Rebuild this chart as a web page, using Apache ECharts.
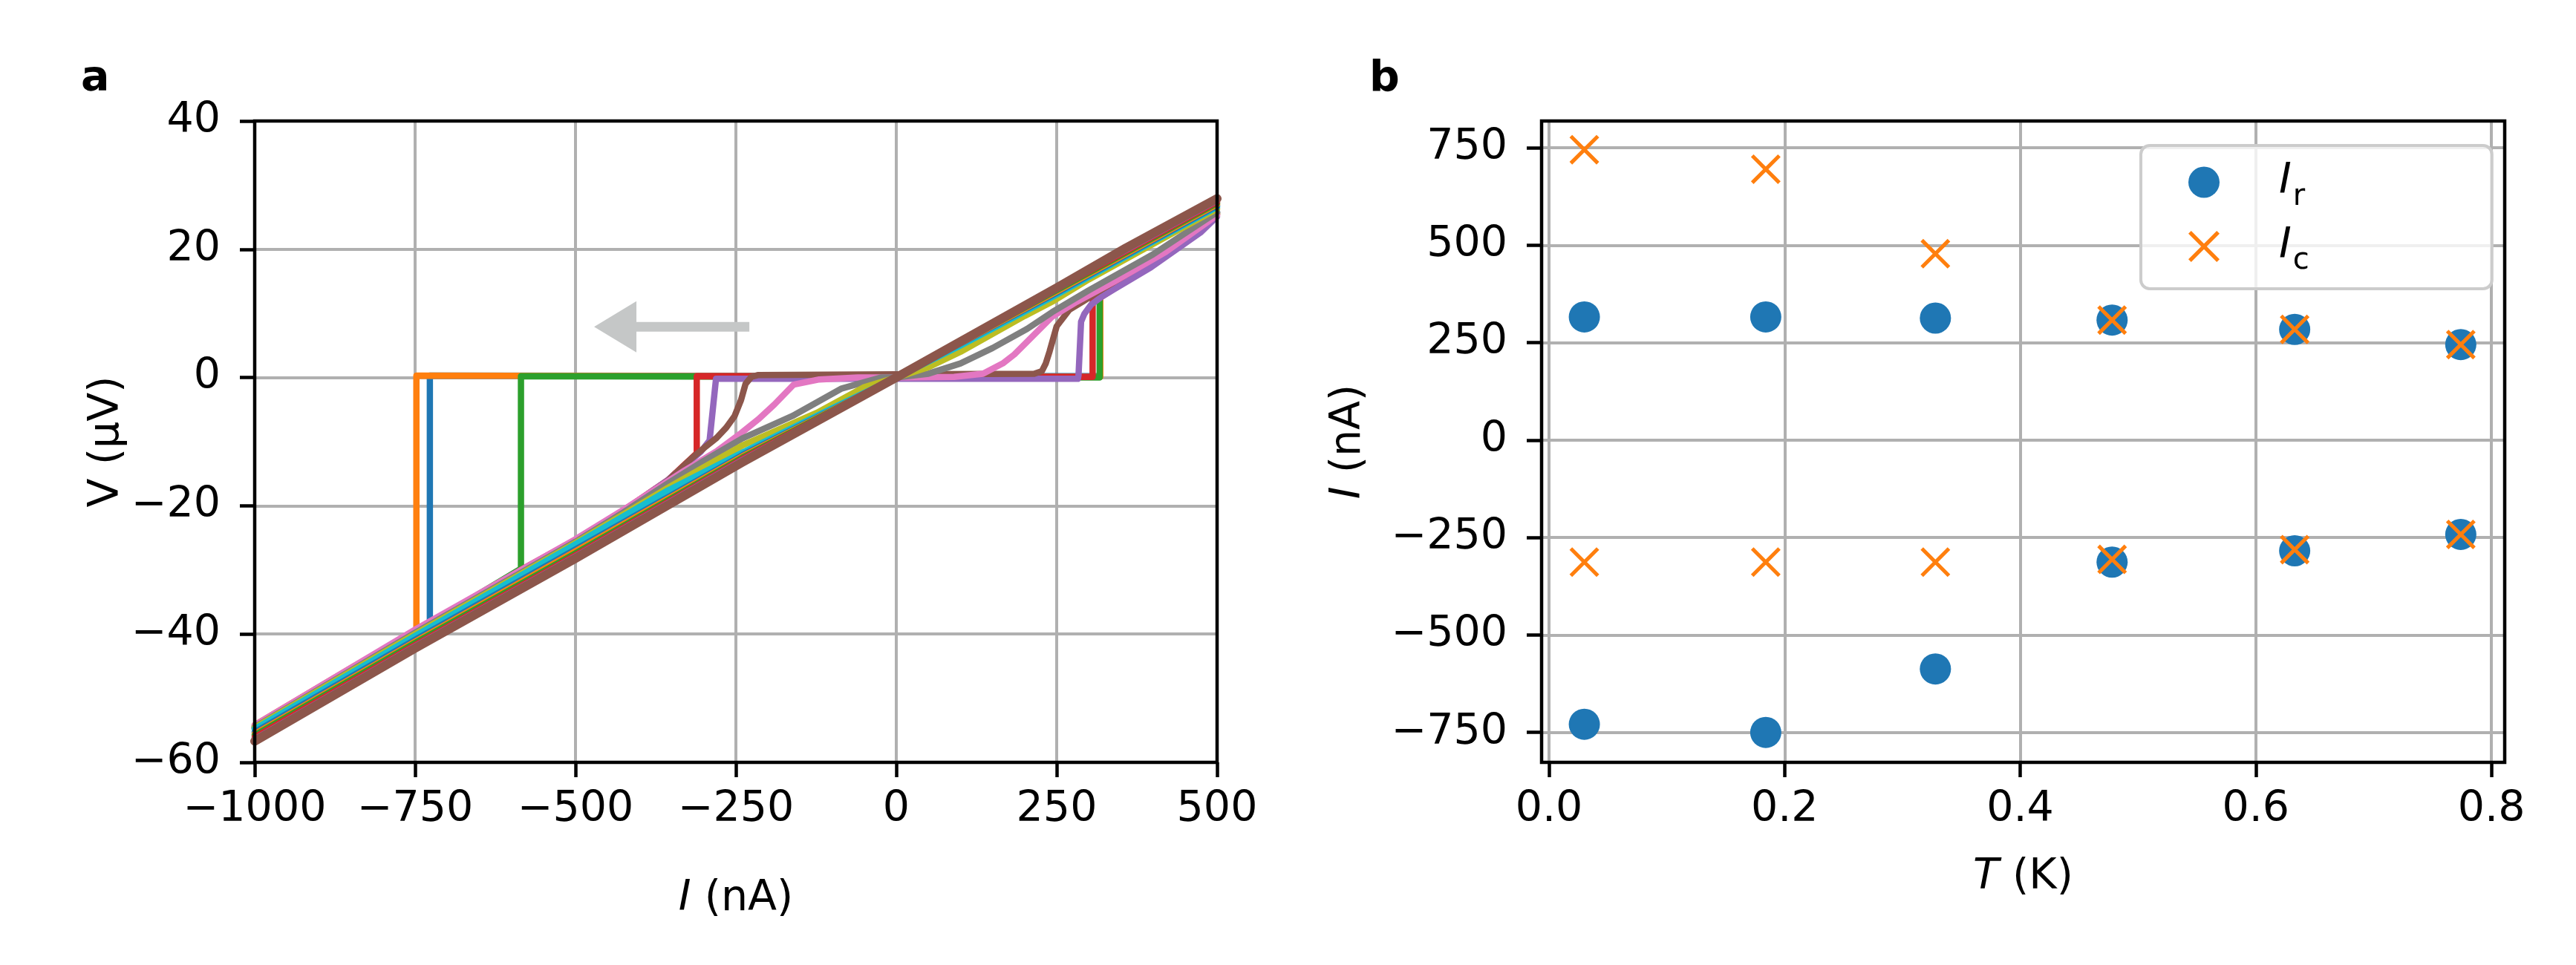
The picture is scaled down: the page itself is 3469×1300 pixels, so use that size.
<!DOCTYPE html>
<html>
<head>
<meta charset="utf-8">
<script src="https://cdn.jsdelivr.net/npm/echarts@6/dist/echarts.min.js"></script>
<style>html,body{margin:0;padding:0;background:#fff}#c{width:3469px;height:1300px}</style>
</head>
<body>
<div id="c"></div>
<script>
// ---------- Panel a: V(I) sweeps, [I (nA), V (uV)] ----------
const C01_BLUE   = [[500,25.8],[474,23.2],[397,17.6],[340,14.1],[318,12.7],[318,0.2],[-727,0.3],[-727,-38.3],[-750,-39.6],[-850,-45.5],[-1000,-54.4]];
const C02_ORANGE = [[500,25.6],[474,23.0],[397,17.5],[340,14.0],[318,12.6],[318,0.1],[-748,0.3],[-748,-39.4],[-850,-45.3],[-1000,-54.2]];
const C03_GREEN  = [[500,25.5],[474,22.9],[397,17.4],[340,13.9],[317,12.5],[317,0.0],[-585,0.2],[-585,-29.8],[-750,-39.7],[-1000,-54.5]];
const C04_RED    = [[500,25.4],[474,22.8],[397,17.3],[340,13.9],[320,12.6],[306,11.8],[306,0.1],[-311,0.2],[-311,-11.8],[-356,-16.0],[-425,-20.7],[-500,-25.3],[-585,-30.0],[-750,-39.8],[-1000,-54.6]];
const C05_PURPLE = [[500,25.1],[474,22.6],[397,17.2],[340,13.8],[320,12.6],[304,11.4],[293,9.9],[288,8.7],[284,0.3],[283,-0.2],[-281,-0.2],[-286,-5.0],[-291,-9.8],[-305,-11.6],[-356,-16.0],[-425,-20.8],[-500,-25.4],[-750,-39.9],[-1000,-54.7]];
const C06_BROWN  = [[500,25.7],[420,19.9],[360,16.2],[320,13.7],[290,11.8],[270,10.6],[250,8.0],[239,4.1],[233,2.2],[227,1.0],[215,0.6],[0,0.5],[-215,0.4],[-226,0.1],[-235,-1.0],[-242,-3.5],[-252,-6.0],[-265,-7.8],[-280,-9.4],[-300,-11.0],[-320,-12.7],[-356,-16.1],[-425,-20.9],[-500,-25.5],[-750,-40.0],[-1000,-54.8]];
const C07_PINK   = [[500,25.3],[420,19.6],[339,14.9],[281,11.8],[243,9.5],[204,5.6],[184,3.6],[166,2.2],[135,0.6],[90,0.1],[0,0],[-60,0],[-120,-0.3],[-160,-1.1],[-190,-4.2],[-215,-6.5],[-241,-8.6],[-280,-11.5],[-330,-14.5],[-425,-20.6],[-500,-25.2],[-750,-39.3],[-1000,-54.2]];
const C08_GRAY   = [[500,25.8],[400,19.2],[300,13.6],[243,10.2],[204,7.6],[150,4.6],[100,2.2],[50,0.6],[0,0],[-24,0],[-85,-1.7],[-162,-6.0],[-240,-9.5],[-300,-13.0],[-356,-16.5],[-425,-21.0],[-500,-25.6],[-750,-39.8],[-1000,-54.5]];
const C09_OLIVE  = [[500,26.3],[400,20.8],[300,15.3],[246,12.0],[200,9.6],[150,6.8],[100,4.0],[50,1.6],[0,0],[-50,-1.5],[-124,-5.5],[-240,-10.6],[-300,-14.0],[-356,-17.2],[-500,-25.8],[-750,-40.0],[-1000,-54.6]];
const C10_CYAN   = [[500,26.6],[400,21.2],[246,12.7],[100,5.0],[0,0],[-100,-4.8],[-240,-11.7],[-356,-17.6],[-500,-26.0],[-750,-40.3],[-1000,-54.8]];
const C11_BLUE   = [[500,26.8],[246,13.0],[0,0],[-240,-12.1],[-500,-26.8],[-750,-40.9],[-1000,-55.3]];
const C12_ORANGE = [[500,27.0],[246,13.2],[0,0],[-240,-12.3],[-500,-27.1],[-750,-41.2],[-1000,-55.6]];
const C13_GREEN  = [[500,27.2],[246,13.4],[0,0],[-240,-12.5],[-500,-27.4],[-750,-41.4],[-1000,-55.8]];
const C14_RED    = [[500,27.4],[246,13.6],[0,0],[-240,-12.7],[-500,-27.7],[-750,-41.7],[-1000,-56.1]];
const C15_PURPLE = [[500,27.6],[246,13.8],[0,0],[-240,-12.9],[-500,-27.9],[-750,-41.9],[-1000,-56.4]];
const C16_BROWN  = [[500,27.9],[358,20.2],[250,14.0],[0,0],[-240,-13.2],[-500,-28.2],[-750,-42.2],[-1000,-56.7]];
const IV_CURVES = [C01_BLUE,C02_ORANGE,C03_GREEN,C04_RED,C05_PURPLE,C06_BROWN,C07_PINK,C08_GRAY,C09_OLIVE,C10_CYAN,C11_BLUE,C12_ORANGE,C13_GREEN,C14_RED,C15_PURPLE,C16_BROWN];
const ARROW_TAIL = [-229, 7.9];
const ARROW_TIP  = [-471, 7.9];
const A_X_TICKS = [-1000,-750,-500,-250,0,250,500];
const A_Y_TICKS = [-60,-40,-20,0,20,40];

// ---------- Panel b: currents vs temperature ----------
const T_K    = [0.030, 0.184, 0.328, 0.478, 0.633, 0.774];
const IR_POS = [316, 316, 313, 308, 284, 245];
const IR_NEG = [-729, -750, -587, -313, -284, -242];
const IC_POS = [745, 695, 478, 308, 284, 245];
const IC_NEG = [-313, -313, -313, -306, -281, -242];
const B_X_TICKS = [0, 0.2, 0.4, 0.6, 0.8];
const B_Y_TICKS = [-750, -500, -250, 0, 250, 500, 750];
const B_X_RANGE = [-0.0063, 0.8113];
const B_Y_RANGE = [-826.7, 818.6];

// ---------- styles / layout ----------
const TAB10 = ['#1f77b4','#ff7f0e','#2ca02c','#d62728','#9467bd','#8c564b','#e377c2','#7f7f7f','#bcbd22','#17becf'];
const FONT = 'DejaVu Sans';
const FS = 57;
const GRID_A = {left:343, top:163, width:1296, height:864};
const GRID_B = {left:2076, top:163, width:1297, height:864};
const GRIDLINE = {color:'#b0b0b0', width:4};
const SPINE_W = 4.5;

const minus = v => (v < 0 ? '\u2212' : '') + Math.abs(v);
const axisCommon = {
  axisLine:{show:false, onZero:false},
  axisTick:{show:true, inside:false, length:20, lineStyle:{color:'#000', width:SPINE_W}},
  splitLine:{show:true, lineStyle:GRIDLINE},
  nameLocation:'middle',
  nameTextStyle:{fontFamily:FONT, fontSize:FS, color:'#000',
    rich:{i:{fontFamily:FONT, fontSize:FS, fontStyle:'italic', color:'#000'},
          n:{fontFamily:FONT, fontSize:FS, color:'#000'}}}
};
const lbl = (margin, fmt) => ({show:true, fontFamily:FONT, fontSize:FS, color:'#000', margin:margin, formatter:fmt});

const series = [];
series.push({
  type:'custom', xAxisIndex:0, yAxisIndex:0, silent:true, z:1,
  encode:{x:[0,2], y:[1,3]},
  data:[[ARROW_TAIL[0], ARROW_TAIL[1], ARROW_TIP[0], ARROW_TIP[1]]],
  renderItem:(params, api) => {
    const tail = api.coord([api.value(0), api.value(1)]);
    const tip = api.coord([api.value(2), api.value(3)]);
    const HL = 57, HW = 34.5, BW = 6.5;
    const back = tip[0] + HL;
    return {type:'polygon', shape:{points:[[tail[0],tail[1]-BW],[back,tail[1]-BW],[back,tip[1]-HW],[tip[0],tip[1]],[back,tip[1]+HW],[back,tail[1]+BW],[tail[0],tail[1]+BW]]},
            style:{fill:'#c5c7c7'}};
  }
});
IV_CURVES.forEach((d, i) => {
  series.push({
    type:'line', xAxisIndex:0, yAxisIndex:0, data:d, showSymbol:false, symbol:'none',
    lineStyle:{color:TAB10[i % 10], width: i === IV_CURVES.length - 1 ? 12 : 8.5, join:'round', cap:'round'},
    silent:true, z:2
  });
});
const XMARK = 'path://M0,0.9 L0.9,0 L10,9.1 L9.1,10 Z M9.1,0 L10,0.9 L0.9,10 L0,9.1 Z';
series.push({
  name:'Ir', type:'scatter', xAxisIndex:1, yAxisIndex:1, symbol:'circle', symbolSize:42,
  itemStyle:{color:TAB10[0], opacity:1},
  data: T_K.map((t,i)=>[t, IR_POS[i]]).concat(T_K.map((t,i)=>[t, IR_NEG[i]]))
});
series.push({
  name:'Ic', type:'scatter', xAxisIndex:1, yAxisIndex:1, symbol:XMARK, symbolSize:40,
  itemStyle:{color:TAB10[1], opacity:1},
  data: T_K.map((t,i)=>[t, IC_POS[i]]).concat(T_K.map((t,i)=>[t, IC_NEG[i]]))
});

const chart = echarts.init(document.getElementById('c'), null, {renderer:'canvas', devicePixelRatio:1});
chart.setOption({
  animation:false,
  backgroundColor:'#fff',
  grid:[Object.assign({containLabel:false}, GRID_A), Object.assign({containLabel:false}, GRID_B)],
  xAxis:[
    Object.assign({}, axisCommon, {gridIndex:0, type:'value', min:-1000, max:500, interval:250,
      name:'{i|I}{n| (nA)}', nameGap:156, axisLabel:lbl(36, minus)}),
    Object.assign({}, axisCommon, {gridIndex:1, type:'value', min:B_X_RANGE[0], max:B_X_RANGE[1],
      axisTick:Object.assign({}, axisCommon.axisTick, {customValues:B_X_TICKS}),
      name:'{i|T}{n| (K)}', nameGap:127,
      axisLabel:Object.assign(lbl(36, v => Number(v).toFixed(1)), {customValues:B_X_TICKS})})
  ],
  yAxis:[
    Object.assign({}, axisCommon, {gridIndex:0, type:'value', min:-60, max:40, interval:20,
      name:'{n|V (\u03bcV)}', nameGap:168, axisLabel:lbl(46, minus)}),
    Object.assign({}, axisCommon, {gridIndex:1, type:'value', min:B_Y_RANGE[0], max:B_Y_RANGE[1],
      axisTick:Object.assign({}, axisCommon.axisTick, {customValues:B_Y_TICKS}),
      name:'{i|I}{n| (nA)}', nameGap:231,
      axisLabel:Object.assign(lbl(46, minus), {customValues:B_Y_TICKS})})
  ],
  legend:{
    show:true, data:['Ir','Ic'], orient:'vertical', left:2883, top:196,
    padding:[21,246,17,64], itemGap:18, itemWidth:42, itemHeight:42,
    backgroundColor:'rgba(255,255,255,0.8)', borderColor:'#cccccc', borderWidth:4, borderRadius:12,
    formatter: n => '{g|}{i|I}{s|' + n.slice(1) + '}',
    textStyle:{fontFamily:FONT, fontSize:FS, color:'#000',
      rich:{g:{width:75}, i:{fontFamily:FONT, fontSize:FS, fontStyle:'italic', color:'#000'},
            s:{fontFamily:FONT, fontSize:40, color:'#000', padding:[40,0,0,2]}}},
    selectedMode:false
  },
  graphic:[
    {type:'rect', z:100, silent:true, shape:{x:GRID_A.left, y:GRID_A.top, width:GRID_A.width, height:GRID_A.height},
      style:{fill:'none', stroke:'#000', lineWidth:SPINE_W}},
    {type:'rect', z:100, silent:true, shape:{x:GRID_B.left, y:GRID_B.top, width:GRID_B.width, height:GRID_B.height},
      style:{fill:'none', stroke:'#000', lineWidth:SPINE_W}},
    {type:'text', z:100, silent:true, style:{text:'a', x:109, y:136, font:'bold 57px "DejaVu Sans"', fill:'#000', verticalAlign:'bottom'}},
    {type:'text', z:100, silent:true, style:{text:'b', x:1844, y:136, font:'bold 57px "DejaVu Sans"', fill:'#000', verticalAlign:'bottom'}}
  ],
  series:series
});
</script>
</body>
</html>
